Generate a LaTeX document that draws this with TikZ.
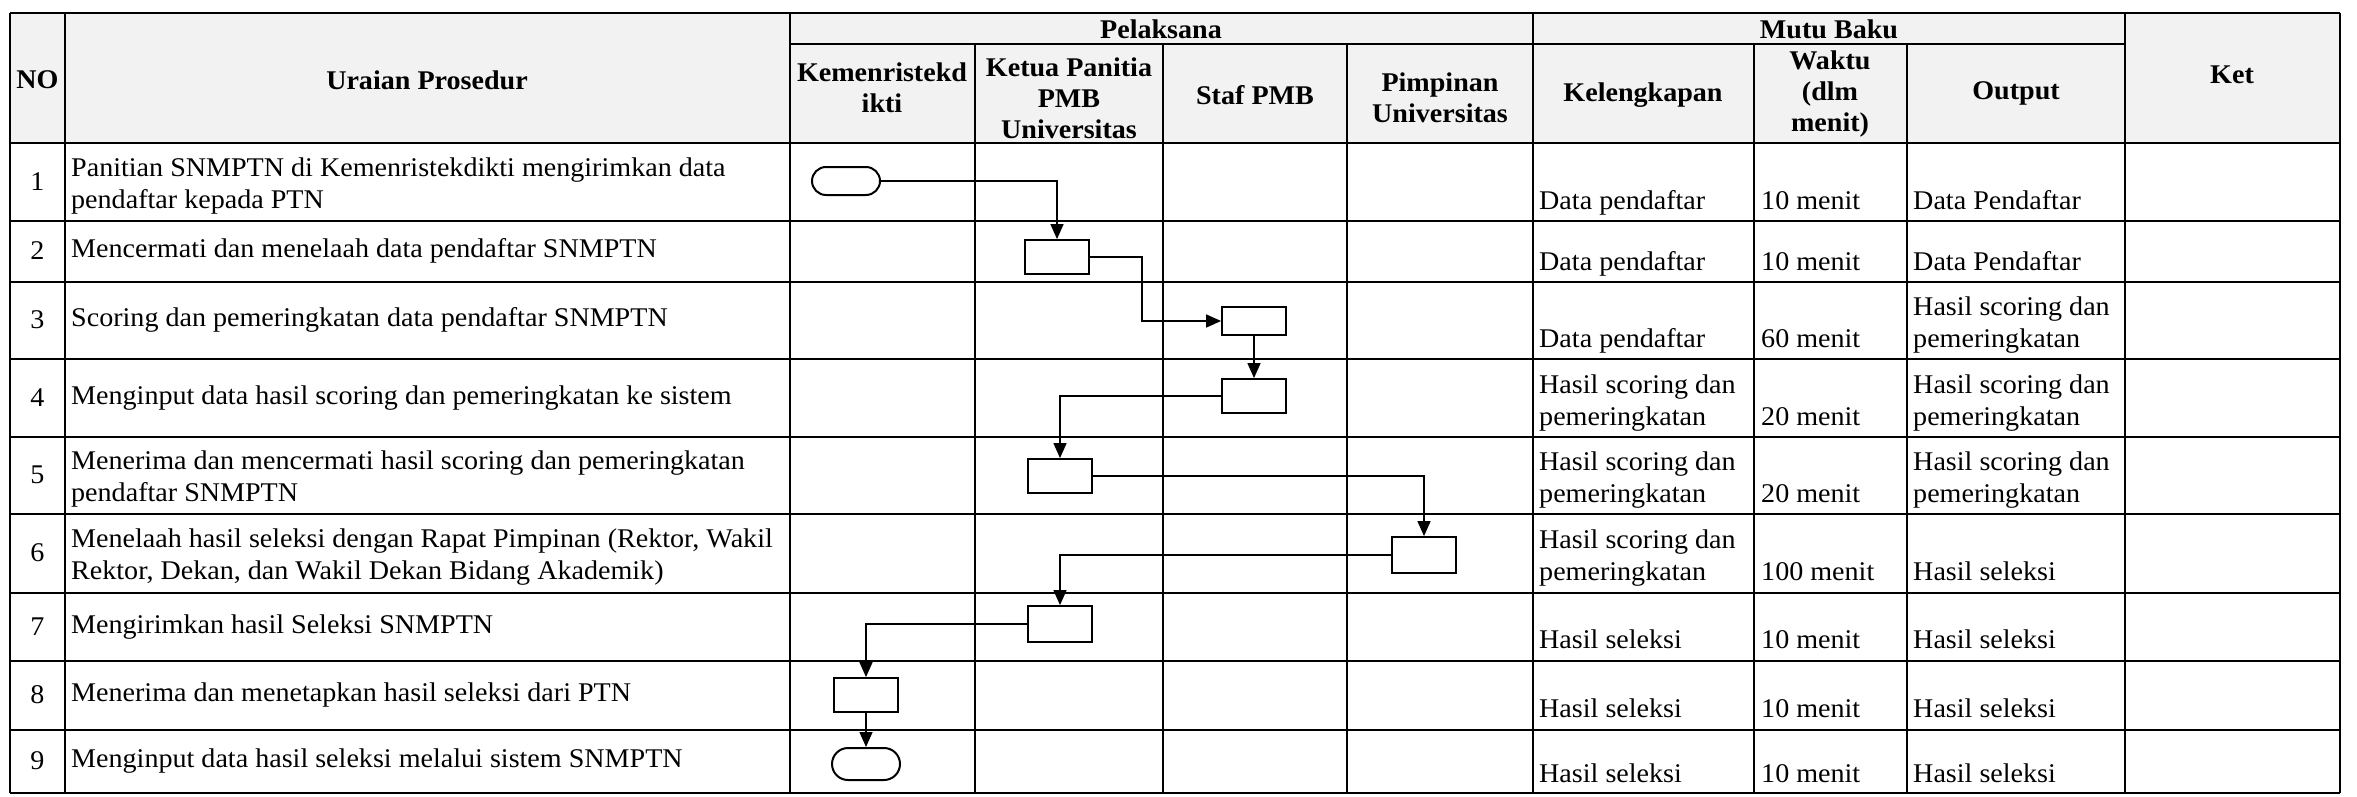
\documentclass[tikz,border=0pt]{standalone}
\usepackage{fontspec}
\setmainfont{Liberation Serif}[FakeStretch=1.04]
\usetikzlibrary{arrows.meta,shapes.misc}
\begin{document}
\begin{tikzpicture}[x=1pt,y=-1pt,
  grid/.style={line width=2.6pt},
  proc/.style={draw, line width=1.8pt, minimum width=64pt, minimum height=34pt, inner sep=0pt},
  term/.style={draw, rounded rectangle, line width=2pt, minimum width=68pt, minimum height=28pt, inner sep=0pt},
  flow/.style={line width=1.4pt, -{Triangle[length=15pt,width=13pt]}},
  hd/.style={font=\fontsize{27}{31}\selectfont\bfseries, align=center, inner sep=0pt},
  cell/.style={font=\fontsize{27}{31}\selectfont, anchor=base west, inner sep=0pt},
  desc/.style={font=\fontsize{27}{31.5}\selectfont, anchor=west, align=left, inner sep=0pt},
  num/.style={font=\fontsize{27}{31}\selectfont, inner sep=0pt}
]
\useasboundingbox (0,0) rectangle (2357,797);
% header background
\fill[gray!10] (10,13) rectangle (2340,143);
% horizontal lines
\draw[grid] (10,13) -- (2340,13);
\draw[grid] (790,44) -- (2125,44);
\foreach \y in {143,221,282,359,437,514,593,661,730,793}
  \draw[grid] (10,\y) -- (2340,\y);
% vertical lines
\foreach \x in {10,65,790,1533,2125,2340}
  \draw[grid] (\x,13) -- (\x,793);
\foreach \x in {975,1163,1347,1754,1907}
  \draw[grid] (\x,44) -- (\x,793);

% header texts
\node[hd] (hNO) at (37.5,80) {NO};
\node[hd] (hUr) at (427,80) {Uraian Prosedur};
\node[hd] (hPel) at (1161,29) {Pelaksana};
\node[hd] (hKem) at (882,88) {Kemenristekd\\ikti};
\node[hd] (hKetua) at (1069,98) {Ketua Panitia\\PMB\\Universitas};
\node[hd] (hStaf) at (1255,95) {Staf PMB};
\node[hd] (hPim) at (1440,98) {Pimpinan\\Universitas};
\node[hd] (hMutu) at (1829,29) {Mutu Baku};
\node[hd] (hKel) at (1643,95) {Kelengkapan};
\node[hd] (hWak) at (1830,94) {Waktu\\(dlm\\menit)};
\node[hd] (hOut) at (2016,93) {Output};
\node[hd] (hKet) at (2232,75) {Ket};

% numbers
\node[num] (n1) at (37.5,182) {1};
\node[num] (n2) at (37.5,251) {2};
\node[num] (n3) at (37.5,320) {3};
\node[num] (n4) at (37.5,398) {4};
\node[num] (n5) at (37.5,475) {5};
\node[num] (n6) at (37.5,553) {6};
\node[num] (n7) at (37.5,627) {7};
\node[num] (n8) at (37.5,695) {8};
\node[num] (n9) at (37.5,761) {9};

% descriptions
\node[desc] (d1) at (71,186) {Panitian SNMPTN di Kemenristekdikti mengirimkan data\\pendaftar kepada PTN};
\node[desc] (d2) at (71,251) {Mencermati dan menelaah data pendaftar SNMPTN};
\node[desc] (d3) at (71,320) {Scoring dan pemeringkatan data pendaftar SNMPTN};
\node[desc] (d4) at (71,398) {Menginput data hasil scoring dan pemeringkatan ke sistem};
\node[desc] (d5) at (71,479) {Menerima dan mencermati hasil scoring dan pemeringkatan\\pendaftar SNMPTN};
\node[desc] (d6) at (71,557) {Menelaah hasil seleksi dengan Rapat Pimpinan (Rektor, Wakil\\Rektor, Dekan, dan Wakil Dekan Bidang Akademik)};
\node[desc] (d7) at (71,627) {Mengirimkan hasil Seleksi SNMPTN};
\node[desc] (d8) at (71,695) {Menerima dan menetapkan hasil seleksi dari PTN};
\node[desc] (d9) at (71,761) {Menginput data hasil seleksi melalui sistem SNMPTN};

% Kelengkapan
\node[cell] (k1) at (1539,209) {Data pendaftar};
\node[cell] (k2) at (1539,270) {Data pendaftar};
\node[cell] (k3) at (1539,347) {Data pendaftar};
\node[cell] (k4a) at (1539,393) {Hasil scoring dan};
\node[cell] (k4b) at (1539,425) {pemeringkatan};
\node[cell] (k5a) at (1539,470) {Hasil scoring dan};
\node[cell] (k5b) at (1539,502) {pemeringkatan};
\node[cell] (k6a) at (1539,548) {Hasil scoring dan};
\node[cell] (k6b) at (1539,580) {pemeringkatan};
\node[cell] (k7) at (1539,648) {Hasil seleksi};
\node[cell] (k8) at (1539,717) {Hasil seleksi};
\node[cell] (k9) at (1539,782) {Hasil seleksi};

% Waktu
\node[cell] (w1) at (1761,209) {10 menit};
\node[cell] (w2) at (1761,270) {10 menit};
\node[cell] (w3) at (1761,347) {60 menit};
\node[cell] (w4) at (1761,425) {20 menit};
\node[cell] (w5) at (1761,502) {20 menit};
\node[cell] (w6) at (1761,580) {100 menit};
\node[cell] (w7) at (1761,648) {10 menit};
\node[cell] (w8) at (1761,717) {10 menit};
\node[cell] (w9) at (1761,782) {10 menit};

% Output
\node[cell] (o1) at (1913,209) {Data Pendaftar};
\node[cell] (o2) at (1913,270) {Data Pendaftar};
\node[cell] (o3a) at (1913,315) {Hasil scoring dan};
\node[cell] (o3b) at (1913,347) {pemeringkatan};
\node[cell] (o4a) at (1913,393) {Hasil scoring dan};
\node[cell] (o4b) at (1913,425) {pemeringkatan};
\node[cell] (o5a) at (1913,470) {Hasil scoring dan};
\node[cell] (o5b) at (1913,502) {pemeringkatan};
\node[cell] (o6) at (1913,580) {Hasil seleksi};
\node[cell] (o7) at (1913,648) {Hasil seleksi};
\node[cell] (o8) at (1913,717) {Hasil seleksi};
\node[cell] (o9) at (1913,782) {Hasil seleksi};

% flowchart shapes
\node[term] (t1) at (846,181) {};
\node[proc] (b2) at (1057,257) {};
\node[proc, minimum height=28pt] (b3) at (1254,321) {};
\node[proc] (b4) at (1254,396) {};
\node[proc] (b5) at (1060,476) {};
\node[proc, minimum height=36pt] (b6) at (1424,555) {};
\node[proc, minimum height=36pt] (b7) at (1060,624) {};
\node[proc] (b8) at (866,695) {};
\node[term, minimum height=32pt] (t2) at (866,764) {};

% connectors
\draw[flow] (t1.east) -| (b2.north);
\draw[flow] (b2.east) -- ++(52,0) |- (b3.west);
\draw[flow] (b3.south) -- (b4.north);
\draw[flow] (b4.west) -| (b5.north);
\draw[flow] (b5.east) -| (b6.north);
\draw[flow] (b6.west) -| (b7.north);
\draw[flow] (b7.west) -| (b8.north);
\draw[flow] (b8.south) -- (t2.north);
\end{tikzpicture}
\end{document}
